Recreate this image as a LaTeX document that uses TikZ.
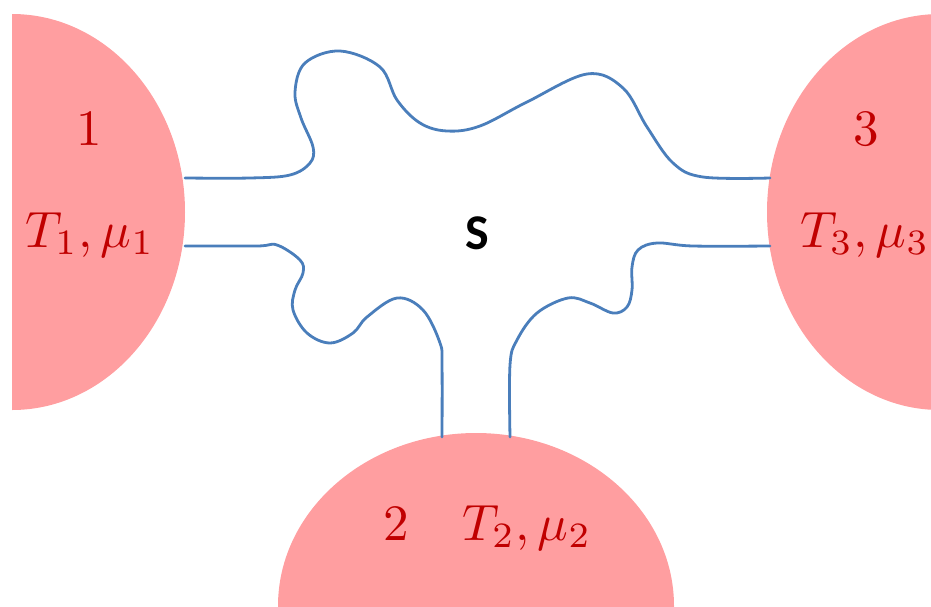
\documentclass[tikz,border=0pt]{standalone}
\usepackage{fontspec}
\newfontfamily\sfont{Carlito}
\definecolor{reservoir}{RGB}{255,158,160}
\definecolor{labelred}{RGB}{192,0,0}
\definecolor{wire}{RGB}{74,126,187}
\tikzset{
  resfill/.style={fill=reservoir},
  lbl/.style={text=labelred, scale=5.1, anchor=base, inner sep=0pt},
  wireline/.style={draw=wire, line width=2.8pt, line cap=round, line join=round}
}
\begin{document}
\begin{tikzpicture}[x=1pt,y=-1pt]
\useasboundingbox (0,0) rectangle (931,606);
\clip (0,0) rectangle (931,606);
% reservoirs
\begin{scope}
  \clip (12,0) rectangle (931,606);
  \fill[resfill] (12,212) ellipse [x radius=173, y radius=198];
\end{scope}
\fill[resfill] (940,212) ellipse [x radius=173, y radius=198];
\fill[resfill] (476,606) ellipse [x radius=198, y radius=173];
% wires
\draw[wireline] plot[smooth, tension=0.6] coordinates {(185,178) (250,178) (290,175) (310,163) (313,147) (301,118) (295,92) (305,63) (340,51) (380,67) (397,100) (420,123) (447,131) (480,126) (527,102) (587,74) (623,88) (647,127) (673,163) (703,177) (770,178)};
\draw[wireline] plot[smooth, tension=0.6] coordinates {(185,246) (257,246) (277,245) (300,260) (303,273) (295,290) (293,310) (307,333) (330,343) (353,333) (367,317) (397,298) (423,310) (440,343) (442,365) (442,437)};
\draw[wireline] plot[smooth, tension=0.6] coordinates {(510,437) (510,365) (517,340) (537,313) (568,298) (590,303) (613,313) (627,307) (632,290) (632,267) (638,250) (657,243) (693,246) (770,246)};
% labels
\node[lbl] (n1) at (89,145) {$1$};
\node[lbl] (tm1) at (90,247) {$T_1,\mu_1$};
\node[lbl] (n3) at (866,145) {$3$};
\node[lbl] (tm3) at (865,247) {$T_3,\mu_3$};
\node[lbl] (n2) at (396,540) {$2$};
\node[lbl] (tm2) at (527,540) {$T_2,\mu_2$};
\node[inner sep=0pt] (s) at (477,233) {\sfont\bfseries\fontsize{50}{60}\selectfont S};
\end{tikzpicture}
\end{document}
